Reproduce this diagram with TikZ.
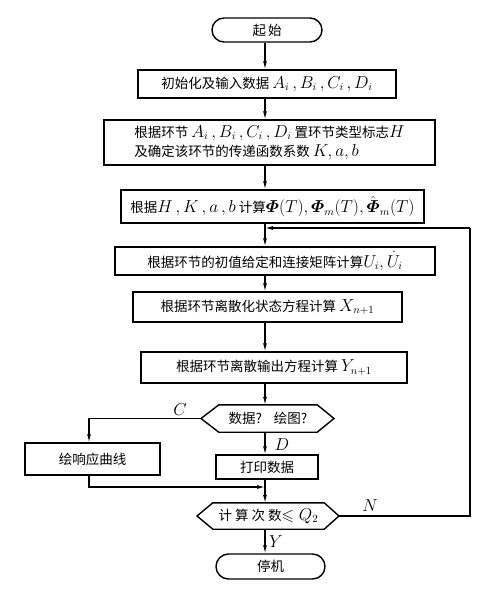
\documentclass[tikz,border=0pt]{standalone}
\usepackage{amsmath,amssymb}
\usepackage[no-math]{fontspec}
\setmainfont{Noto Sans CJK SC}
\usetikzlibrary{arrows.meta,shapes.misc}
\newcommand{\mth}[1]{{\fontsize{16}{19}\selectfont$#1$}}
\begin{document}
\begin{tikzpicture}[x=1pt,y=-1pt,
  every node/.style={font=\fontsize{13.5}{19}\selectfont, inner sep=0pt},
  proc/.style={draw, line width=1.4pt, rectangle},
  term/.style={draw, line width=1.4pt, rounded rectangle},
  hexline/.style={line width=1.4pt, line join=miter},
  arr/.style={line width=1.1pt, -{Latex[length=8pt,width=4pt]}},
  ln/.style={line width=1.1pt},
  lab/.style={font=\fontsize{16}{16}\selectfont}]
\useasboundingbox (0,0) rectangle (495,596);
\coordinate (ax) at (265,0);
\coordinate (cx) at (89,0);

\node[term, minimum width=110, minimum height=24] (start) at (267,30) {起\hspace{2pt}始};
\node[proc, minimum width=258, minimum height=28] (b1) at (267,84) {初始化及输入数据 \mth{A_i\,,B_i\,,C_i\,,D_i}};
\node[proc, minimum width=331, minimum height=45, align=left] (b2) at (269.5,142.5) {根据环节 \mth{A_i\,,B_i\,,C_i\,,D_i} 置环节类型标志\mth{H}\\及确定该环节的传递函数系数 \mth{K,a,b}};
\node[proc, minimum width=303, minimum height=33] (b3) at (272.5,206.5) {根据\mth{H\,,K\,,a\,,b} 计算\mth{\boldsymbol{\varPhi}(T),\boldsymbol{\varPhi}_m(T),\hat{\boldsymbol{\varPhi}}_m(T)}};
\node[proc, minimum width=320, minimum height=28] (b4) at (275,261) {根据环节的初值给定和连接矩阵计算\mth{U_i,\dot{U}_i}};
\node[proc, minimum width=269, minimum height=30] (b5) at (267.5,307) {根据环节离散化状态方程计算 \mth{X_{n+1}}};
\node[proc, minimum width=266, minimum height=31] (b6) at (274,367.5) {根据环节离散输出方程计算 \mth{Y_{n+1}}};

\node[minimum width=98, minimum height=27] (h1) at (268,418.5) {数据?\hspace{12pt}绘图?};
\coordinate (h1l) at (201,418.5);
\coordinate (h1r) at (334,418.5);
\draw[hexline] (h1.north west) -- (h1.north east) -- (h1r) -- (h1.south east) -- (h1.south west) -- (h1l) -- cycle;

\node[proc, minimum width=135, minimum height=32] (b7) at (92.5,459) {绘响应曲线};
\node[proc, minimum width=102, minimum height=24] (b8) at (267,467) {打印数据};

\node[minimum width=111, minimum height=26] (h2) at (268.5,516) {计\hspace{3pt}算\hspace{3pt}次\hspace{3pt}数\mth{\leqslant Q_2}};
\coordinate (h2l) at (197,516);
\coordinate (h2r) at (339,516);
\draw[hexline] (h2.north west) -- (h2.north east) -- (h2r) -- (h2.south east) -- (h2.south west) -- (h2l) -- cycle;

\node[term, minimum width=109, minimum height=25] (stop) at (270.5,566.5) {停机};

\coordinate (mg) at (265,487);
\coordinate (fbc) at (470,228);
\coordinate (fbe) at (265,228);

\draw[arr] (start.south -| ax) -- (b1.north -| ax);
\draw[arr] (b1.south -| ax) -- (b2.north -| ax);
\draw[arr] (b2.south -| ax) -- (b3.north -| ax);
\draw[arr] (b3.south -| ax) -- (b4.north -| ax);
\draw[arr] (b4.south -| ax) -- (b5.north -| ax);
\draw[arr] (b5.south -| ax) -- (b6.north -| ax);
\draw[arr] (b6.south -| ax) -- (h1.north -| ax);
\draw[arr] (h1.south -| ax) -- (b8.north -| ax);
\draw[arr] (h1l) -| (b7.north -| cx);
\draw[arr] (b7.south -| cx) |- (mg);
\draw[arr] (b8.south -| ax) -- (h2.north -| ax);
\draw[arr] (h2.south -| ax) -- (stop.north -| ax);
\draw[ln] (h2r) -| (fbc);
\draw[arr] (fbc) -- (fbe);

\node[lab] (lC) at (180,410) {$C$};
\node[lab] (lD) at (282,445) {$D$};
\node[lab] (lN) at (370,506) {$N$};
\node[lab] (lY) at (276,542) {$Y$};
\end{tikzpicture}
\end{document}
